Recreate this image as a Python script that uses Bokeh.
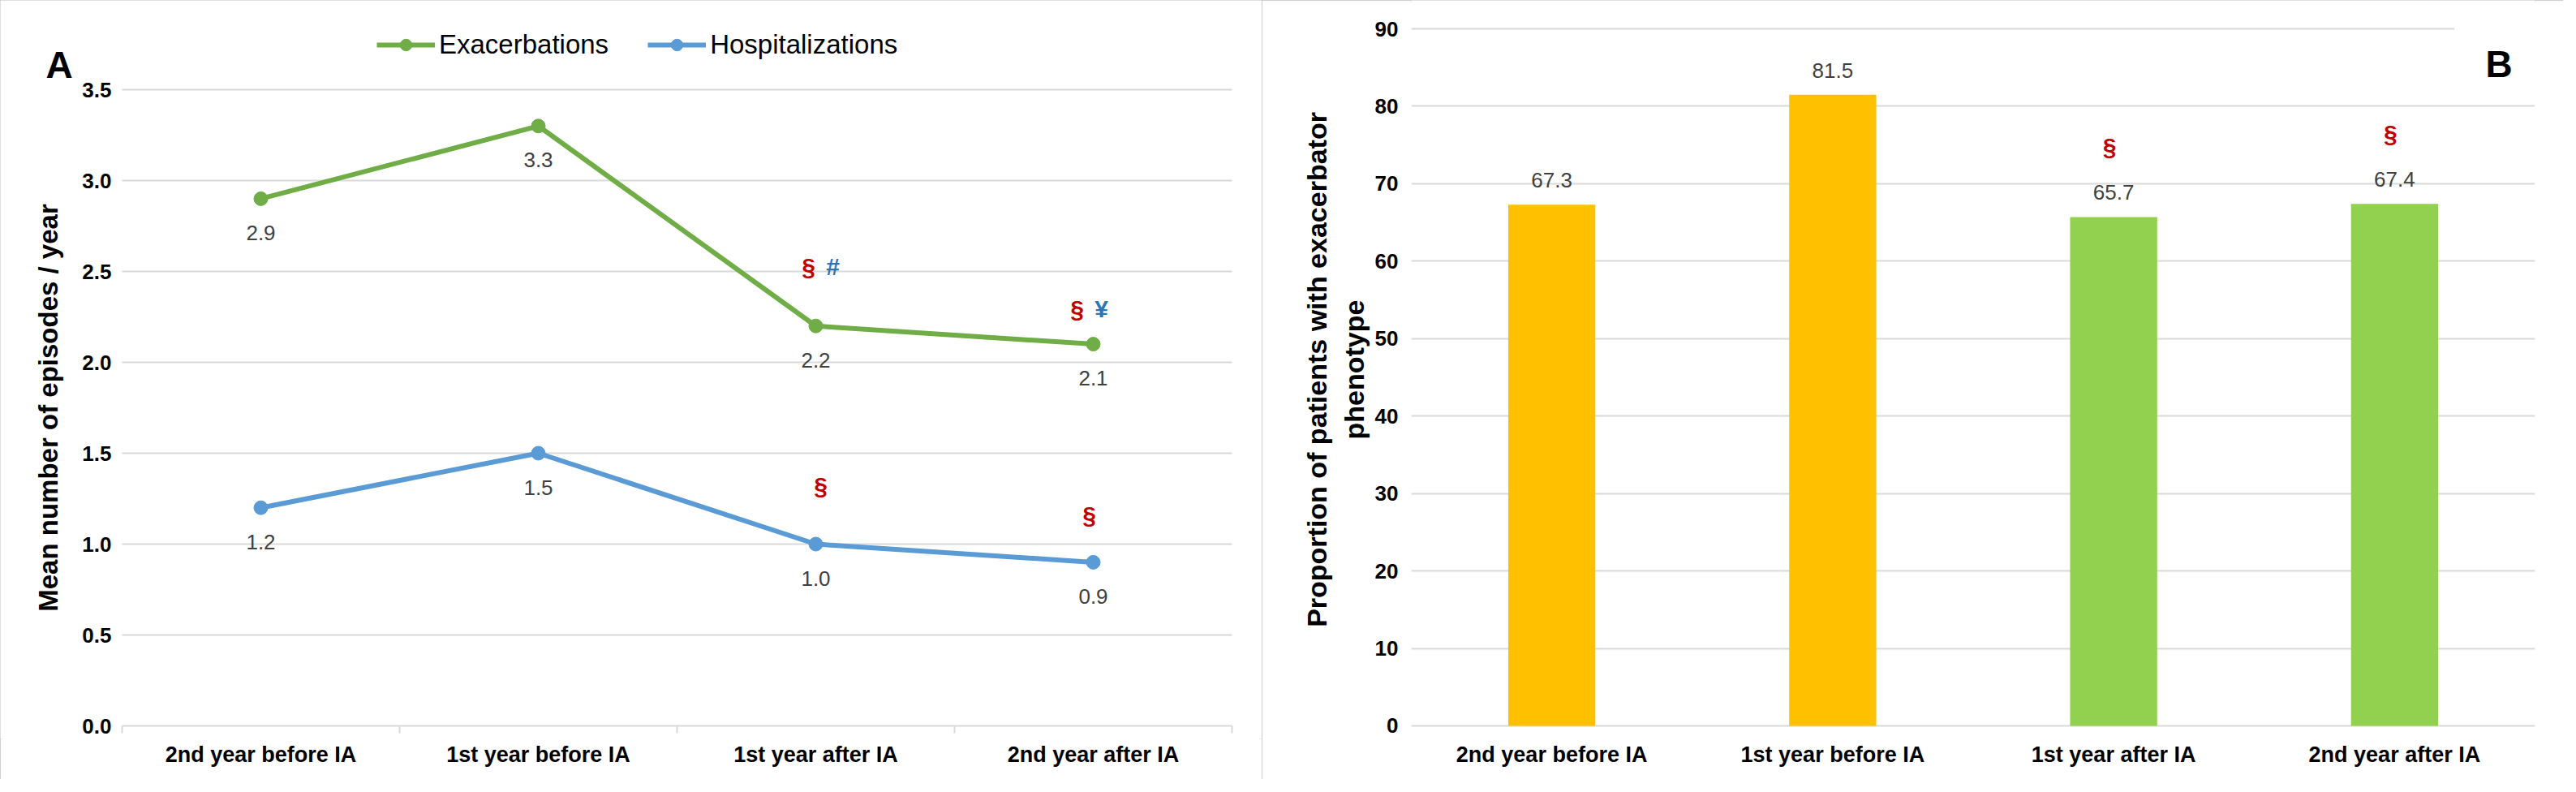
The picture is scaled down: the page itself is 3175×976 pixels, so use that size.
from bokeh.plotting import figure
from bokeh.models import (ColumnDataSource, Legend, LegendItem, Label, BoxAnnotation,
                          FactorRange, Range1d, NumeralTickFormatter, FixedTicker, Grid)
from bokeh.layouts import row
from bokeh.embed import file_html
from bokeh.resources import INLINE
from bokeh.core.properties import value

# ---------------- data ----------------
periods = ["2nd year before IA", "1st year before IA", "1st year after IA", "2nd year after IA"]
exacerbations = [2.9, 3.3, 2.2, 2.1]
hospitalizations = [1.2, 1.5, 1.0, 0.9]
exac_sig_a = ["", "", "\u00a7", "\u00a7"]
exac_sig_b = ["", "", "#", "\u00a5"]
hosp_sig = ["", "", "\u00a7", "\u00a7"]
phenotype_pct = [67.3, 81.5, 65.7, 67.4]
pheno_sig = ["", "", "\u00a7", "\u00a7"]
left_ticks = [0.0, 0.5, 1.0, 1.5, 2.0, 2.5, 3.0, 3.5]
right_ticks = [0, 10, 20, 30, 40, 50, 60, 70, 80, 90]

# category positions on panel A's numeric axis (centre of each band) and band edges
x_pos = [i + 0.5 for i in range(len(periods))]
cat_edges = list(range(len(periods) + 1))

# ---------------- styles ----------------
FONT = "Liberation Sans"
NARROW = "Liberation Sans Narrow, Liberation Sans"
GREEN = "#70AD47"
BLUE = "#5B9BD5"
GRID = "#D9D9D9"
SIG_RED = "#C00000"
SIG_BLUE = "#2E75B6"
LABEL_GRAY = "#404040"
bar_colors = ["#FFC000", "#FFC000", "#92D050", "#92D050"]
exac_dx_a = [0, 0, -9, -20]
exac_dx_b = [0, 0, 21, 10]
exac_dy = [0, 0, -73, -44]
hosp_dx = [0, 0, 6, -5]
hosp_dy = [0, 0, -72, -58]

PX_A = 224.0     # pixels per unit, panel A
PX_B = 9.544     # pixels per unit, panel B
BELOW = 16       # frame extends this many px below zero


def style_common(p):
    if "frame_align" in p.properties():
        p.frame_align = False
    p.xgrid.visible = False
    p.outline_line_color = None
    p.background_fill_color = "white"
    p.border_fill_color = "white"
    for ax in (p.xaxis, p.yaxis):
        ax.major_tick_line_color = None
        ax.minor_tick_line_color = None
        ax.major_tick_out = 0
        ax.major_tick_in = 0
        ax.major_label_text_font = FONT
        ax.major_label_text_font_style = "bold"
        ax.major_label_text_color = "black"
    p.yaxis.axis_line_color = None
    p.xaxis.axis_line_color = None          # the zero gridline serves as axis line
    p.xaxis.major_label_text_font_size = "27px"
    p.yaxis.major_label_text_font_size = "26px"
    p.xaxis.major_label_standoff = 4
    p.yaxis.axis_label_text_font = FONT
    p.yaxis.axis_label_text_font_style = "bold"
    p.yaxis.axis_label_text_color = "black"


# ---------------- panel A ----------------
p1 = figure(x_range=Range1d(-150 / 342, 4 + 37 / 342),
            y_range=Range1d(-BELOW / PX_A, 3.5 + 110 / PX_A),
            frame_width=1555, frame_height=910, output_backend="svg", toolbar_location=None,
            title=None, min_border_left=0, min_border_right=0, min_border_top=0,
            min_border_bottom=50)
style_common(p1)
p1.styles = {"outline": "3px solid #BFBFBF", "outline-offset": "-3px"}

p1.yaxis.fixed_location = 0
p1.yaxis.bounds = (0, 3.5)
p1.yaxis.ticker = FixedTicker(ticks=left_ticks)
p1.yaxis.formatter = NumeralTickFormatter(format="0.0")
p1.yaxis.major_label_standoff = 13
p1.yaxis.axis_label = "Mean number of episodes / year"
p1.yaxis.axis_label_text_font_size = "33px"
p1.yaxis.axis_label_standoff = 20

p1.xaxis.ticker = FixedTicker(ticks=x_pos)
p1.xaxis.major_label_overrides = {x: lab for x, lab in zip(x_pos, periods)}

p1.ygrid.grid_line_color = GRID
p1.ygrid.grid_line_width = 2
p1.ygrid.ticker = FixedTicker(ticks=left_ticks)
if "cross_bounds" in Grid.properties():
    p1.ygrid.cross_bounds = (0, len(periods))
else:
    p1.ygrid.visible = False
    p1.segment(x0=[0] * len(left_ticks), x1=[len(periods)] * len(left_ticks),
               y0=left_ticks, y1=left_ticks, line_color=GRID, line_width=2, level="underlay")
# small separator ticks between categories, below the zero line
p1.segment(x0=cat_edges, x1=cat_edges, y0=[0] * len(cat_edges),
           y1=[-9 / PX_A] * len(cat_edges), line_color=GRID, line_width=2, level="underlay")

src_e = ColumnDataSource(dict(x=x_pos, y=exacerbations,
                              lab=[f"{v:.1f}" for v in exacerbations],
                              sa=exac_sig_a, sb=exac_sig_b,
                              dxa=exac_dx_a, dxb=exac_dx_b, dy=exac_dy))
src_h = ColumnDataSource(dict(x=x_pos, y=hospitalizations,
                              lab=[f"{v:.1f}" for v in hospitalizations],
                              s=hosp_sig, dx=hosp_dx, dy=hosp_dy))

le = p1.line("x", "y", source=src_e, line_color=GREEN, line_width=6)
ce = p1.scatter("x", "y", source=src_e, size=17, fill_color=GREEN, line_color=GREEN)
lh = p1.line("x", "y", source=src_h, line_color=BLUE, line_width=6)
ch = p1.scatter("x", "y", source=src_h, size=17, fill_color=BLUE, line_color=BLUE)

for src in (src_e, src_h):
    p1.text("x", "y", text="lab", source=src, y_offset=42, text_align="center",
            text_baseline="middle", text_font=value(FONT), text_font_size="26px",
            text_color=LABEL_GRAY)

p1.text("x", "y", text="sa", source=src_e, x_offset="dxa", y_offset="dy",
        text_align="center", text_baseline="middle", text_font=value(FONT),
        text_font_size="30px", text_font_style="bold", text_color=SIG_RED)
p1.text("x", "y", text="sb", source=src_e, x_offset="dxb", y_offset="dy",
        text_align="center", text_baseline="middle", text_font=value(FONT),
        text_font_size="30px", text_font_style="bold", text_color=SIG_BLUE)
p1.text("x", "y", text="s", source=src_h, x_offset="dx", y_offset="dy",
        text_align="center", text_baseline="middle", text_font=value(FONT),
        text_font_size="30px", text_font_style="bold", text_color=SIG_RED)

legend = Legend(items=[LegendItem(label="Exacerbations", renderers=[le, ce]),
                       LegendItem(label="Hospitalizations", renderers=[lh, ch])],
                orientation="horizontal", location=(464, 836),
                label_text_font=FONT, label_text_font_size="33px", label_text_color="black",
                glyph_width=72, glyph_height=36, label_standoff=5, spacing=48,
                padding=0, margin=0, border_line_color=None, background_fill_alpha=0)
p1.add_layout(legend)

p1.add_layout(Label(x=-94 / 342, y=815 / PX_A, text="A",
                    text_font=NARROW, text_font_size="46px", text_font_style="bold",
                    text_color="black", text_align="left", text_baseline="alphabetic"))

# ---------------- panel B ----------------
p2 = figure(x_range=FactorRange(*periods),
            y_range=Range1d(-BELOW / PX_B, 90 + 35 / PX_B),
            width=1604, height=960, output_backend="svg", toolbar_location=None, title=None,
            min_border_left=184, min_border_right=35, min_border_top=0, min_border_bottom=50)
style_common(p2)
p2.styles = {"outline": "3px solid #BFBFBF", "outline-offset": "-3px"}
p2.ygrid.grid_line_color = GRID
p2.ygrid.grid_line_width = 2
p2.ygrid.ticker = FixedTicker(ticks=right_ticks)
p2.yaxis.ticker = FixedTicker(ticks=right_ticks)
p2.yaxis.bounds = (0, 90)
p2.yaxis.major_label_standoff = 16
p2.yaxis.axis_label = "Proportion of patients with exacerbator\nphenotype"
p2.yaxis.axis_label_text_font_size = "34px"
p2.yaxis.axis_label_standoff = 4

src_b = ColumnDataSource(dict(x=periods, top=phenotype_pct, color=bar_colors,
                              lab=[f"{v:.1f}" for v in phenotype_pct], s=pheno_sig))
p2.vbar(x="x", top="top", width=0.31, source=src_b, fill_color="color", line_color=None)
p2.text("x", "top", text="lab", source=src_b, y_offset=-30, text_align="center",
        text_baseline="middle", text_font=value(FONT), text_font_size="26px",
        text_color=LABEL_GRAY)
p2.text("x", "top", text="s", source=src_b, x_offset=-5, y_offset=-87, text_align="center",
        text_baseline="middle", text_font=value(FONT), text_font_size="30px",
        text_font_style="bold", text_color=SIG_RED)

# white box behind the "B" letter, which hides the end of the top gridline
p2.add_layout(BoxAnnotation(left=3.713, right=4.2, bottom=88.5, top=92,
                            fill_color="white", fill_alpha=1.0, line_color=None))
p2.add_layout(Label(x=3.824, y=85.4, text="B",
                    text_font=NARROW, text_font_size="46px", text_font_style="bold",
                    text_color="black", text_align="left", text_baseline="alphabetic"))

layout = row(p1, p2)
open("out.html", "w").write(file_html(layout, INLINE))
